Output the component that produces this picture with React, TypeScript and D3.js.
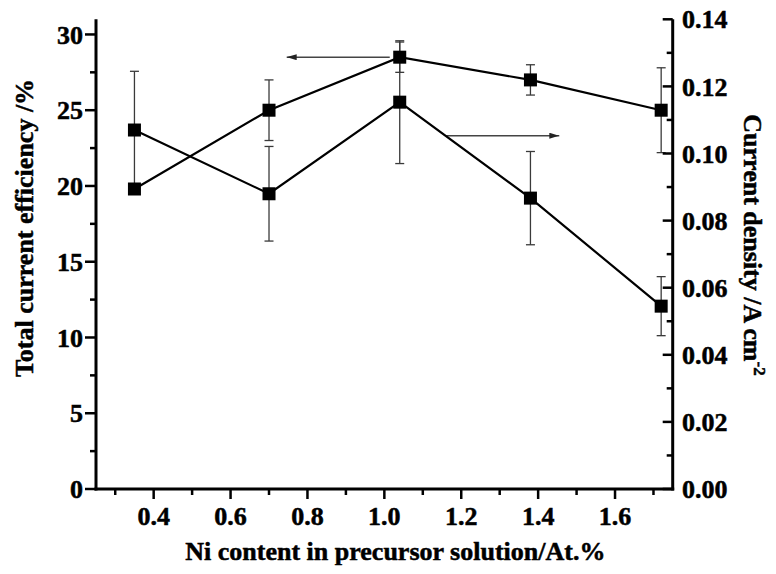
import React from "react";
import * as d3 from "d3";

// Ni content (At.%) of each precursor solution
const niContent = [0.35, 0.7, 1.04, 1.38, 1.72];

// Total current efficiency (%) with its error
const efficiency = [19.8, 25.0, 28.5, 27.0, 25.0];
const efficiencyErr = [0.3, 2.0, 1.0, 1.0, 2.8];

// Current density (A cm^-2) with its error
const density = [0.107, 0.088, 0.1153, 0.0867, 0.0545];
const densityErr = [0.0175, 0.0141, 0.0183, 0.0139, 0.0088];

// Axis ticks
const xMajor = [0.4, 0.6, 0.8, 1.0, 1.2, 1.4, 1.6];
const xMinor = [0.3, 0.5, 0.7, 0.9, 1.1, 1.3, 1.5, 1.7];
const leftMajor = [0, 5, 10, 15, 20, 25, 30];
const leftMinor = [2.5, 7.5, 12.5, 17.5, 22.5, 27.5];
const rightMajor = [0, 0.02, 0.04, 0.06, 0.08, 0.1, 0.12, 0.14];
const rightMinor = [0.01, 0.03, 0.05, 0.07, 0.09, 0.11, 0.13];

// Arrows telling which axis each curve belongs to: [x from, x to, y]
const leftArrow = [1.014, 0.746, 28.5];
const rightArrow = [1.161, 1.455, 0.1053];

const W = 776;
const H = 574;
const FONT = "'Liberation Serif', 'Times New Roman', serif";

export default function App() {
  const x = d3.scaleLinear().domain([0.25, 1.75]).range([96, 672.7]);
  const yL = d3.scaleLinear().domain([0, 31]).range([489, 19.3]);
  const yR = d3.scaleLinear().domain([0, 0.14]).range([489, 19.3]);

  const x0 = x.range()[0];
  const x1 = x.range()[1];
  const yBottom = yL.range()[0];
  const yTop = yL.range()[1];

  const effPts = niContent.map((n, i) => [x(n), yL(efficiency[i])] as [number, number]);
  const denPts = niContent.map((n, i) => [x(n), yR(density[i])] as [number, number]);
  const line = d3.line();

  const errColor = "#3a3a3a";
  const cap = 4.5;
  const marker = 13;

  const errBars = (vals: number[], errs: number[], scale: d3.ScaleLinear<number, number>, key: string) =>
    niContent.map((n, i) => {
      const cx = x(n);
      const top = scale(vals[i] + errs[i]);
      const bot = scale(vals[i] - errs[i]);
      return (
        <g key={key + i} stroke={errColor} strokeWidth={1.3}>
          <line x1={cx} x2={cx} y1={top} y2={bot} />
          <line x1={cx - cap} x2={cx + cap} y1={top} y2={top} />
          <line x1={cx - cap} x2={cx + cap} y1={bot} y2={bot} />
        </g>
      );
    });

  const markers = (pts: [number, number][], key: string) =>
    pts.map((p, i) => (
      <rect key={key + i} x={p[0] - marker / 2} y={p[1] - marker / 2} width={marker} height={marker} fill="#000" />
    ));

  const textStyle: React.CSSProperties = {
    fontFamily: FONT,
    fontWeight: 700,
    fontSize: 26,
    stroke: "#000",
    strokeWidth: 0.5,
  };

  return (
    <svg width={W} height={H} style={{ position: "absolute", left: 0, top: 0, background: "#fff" }}>
      <defs>
        <marker id="arrowHead" viewBox="0 0 10 6" refX="10" refY="3" markerWidth="10" markerHeight="6" markerUnits="userSpaceOnUse" orient="auto">
          <path d="M0,0 L10,3 L0,6 Z" fill="#222" />
        </marker>
      </defs>

      {/* error bars */}
      {errBars(efficiency, efficiencyErr, yL, "ee")}
      {errBars(density, densityErr, yR, "de")}

      {/* direction arrows */}
      <line x1={x(leftArrow[0])} x2={x(leftArrow[1])} y1={yL(leftArrow[2])} y2={yL(leftArrow[2])} stroke="#444" strokeWidth={1.5} markerEnd="url(#arrowHead)" />
      <line x1={x(rightArrow[0])} x2={x(rightArrow[1])} y1={yR(rightArrow[2])} y2={yR(rightArrow[2])} stroke="#444" strokeWidth={1.5} markerEnd="url(#arrowHead)" />

      {/* curves */}
      <path d={line(effPts) || ""} fill="none" stroke="#000" strokeWidth={2.2} />
      <path d={line(denPts) || ""} fill="none" stroke="#000" strokeWidth={2.2} />
      {markers(effPts, "em")}
      {markers(denPts, "dm")}

      {/* axes */}
      <g stroke="#000" strokeWidth={3}>
        <line x1={x0} x2={x0} y1={yTop} y2={yBottom + 1.5} />
        <line x1={x1} x2={x1} y1={yTop} y2={yBottom + 1.5} />
        <line x1={x0 - 1.5} x2={x1 + 1.5} y1={yBottom} y2={yBottom} />
      </g>
      <g stroke="#000" strokeWidth={2.5}>
        {xMajor.map((v) => (
          <line key={"xM" + v} x1={x(v)} x2={x(v)} y1={yBottom} y2={yBottom + 10} />
        ))}
        {xMinor.map((v) => (
          <line key={"xm" + v} x1={x(v)} x2={x(v)} y1={yBottom} y2={yBottom + 6} />
        ))}
        {leftMajor.map((v) => (
          <line key={"lM" + v} x1={x0 - 11} x2={x0} y1={yL(v)} y2={yL(v)} />
        ))}
        {leftMinor.map((v) => (
          <line key={"lm" + v} x1={x0 - 6} x2={x0} y1={yL(v)} y2={yL(v)} />
        ))}
        {rightMajor.map((v) => (
          <line key={"rM" + v} x1={x1 - 10} x2={x1} y1={yR(v)} y2={yR(v)} />
        ))}
        {rightMinor.map((v) => (
          <line key={"rm" + v} x1={x1 - 6} x2={x1} y1={yR(v)} y2={yR(v)} />
        ))}
      </g>

      {/* tick labels */}
      {xMajor.map((v) => (
        <text key={"xt" + v} x={x(v)} y={525} textAnchor="middle" style={textStyle}>
          {d3.format(".1f")(v)}
        </text>
      ))}
      {leftMajor.map((v) => (
        <text key={"lt" + v} x={83} y={yL(v)} dy="0.35em" textAnchor="end" style={textStyle}>
          {v}
        </text>
      ))}
      {rightMajor.map((v) => (
        <text key={"rt" + v} x={682} y={yR(v)} dy="0.35em" textAnchor="start" style={textStyle}>
          {d3.format(".2f")(v)}
        </text>
      ))}

      {/* axis titles */}
      <text x={(x0 + x1) / 2 + 11} y={560} textAnchor="middle" style={textStyle}>
        Ni content in precursor solution/At.%
      </text>
      <text transform="translate(33,228) rotate(-90)" textAnchor="middle" style={textStyle}>
        Total current efficiency /%
      </text>
      <text transform="translate(744,245) rotate(90)" textAnchor="middle" style={textStyle}>
        Current density /A cm
        <tspan dy={-10} style={{ fontSize: 17 }}>-2</tspan>
      </text>
    </svg>
  );
}
